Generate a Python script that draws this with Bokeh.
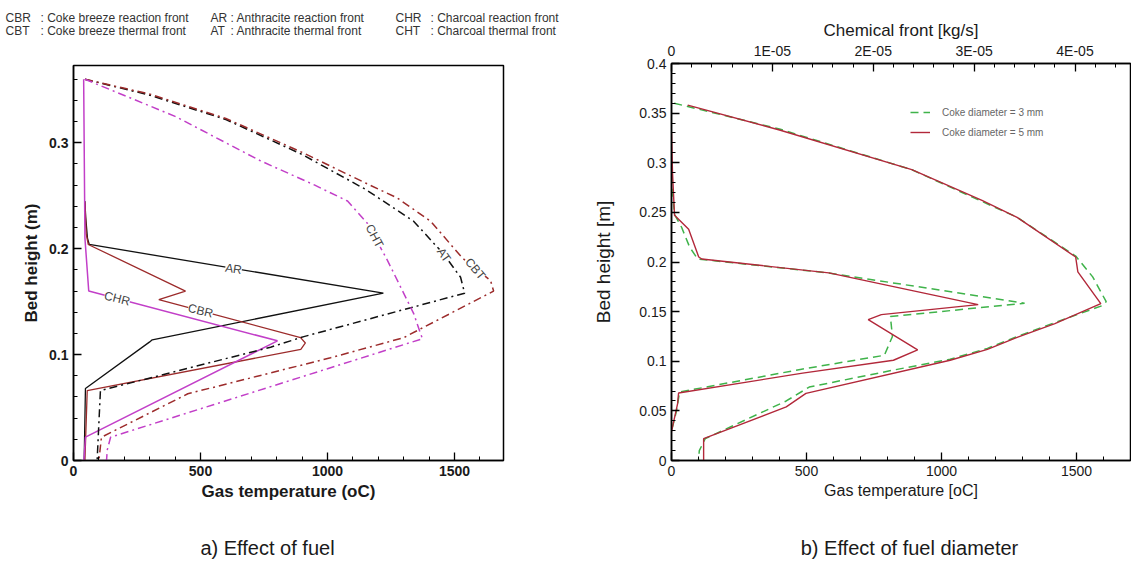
from bokeh.plotting import figure
from bokeh.models import (Range1d, LinearAxis, FixedTicker, CustomJSTickFormatter,
                          Label, Legend, LegendItem)
from bokeh.layouts import row, column
from bokeh.embed import file_html
from bokeh.resources import INLINE

# ---------------- Panel a) Effect of fuel : (gas temperature oC, bed height m)
ar_T = [45, 48, 55, 62, 1220, 310, 300, 47, 42]
ar_h = [0.245, 0.23, 0.21, 0.204, 0.158, 0.114, 0.112, 0.068, 0.0]
cbr_T = [45, 50, 58, 441, 336, 894, 913, 895, 54, 45]
cbr_h = [0.244, 0.214, 0.204, 0.160, 0.152, 0.116, 0.111, 0.105, 0.066, 0.0]
chr_T = [40, 45, 60, 803, 47, 41]
chr_h = [0.36, 0.21, 0.160, 0.113, 0.022, 0.0]
at_T = [45, 300, 600, 900, 1150, 1339, 1457, 1524, 1540, 907, 776, 106, 93]
at_h = [0.36, 0.345, 0.322, 0.289, 0.256, 0.226, 0.195, 0.173, 0.158, 0.117, 0.107, 0.066, 0.0]
cbt_T = [45, 300, 600, 900, 1150, 1274, 1406, 1532, 1642, 1654, 1630, 1300, 1012, 450, 110, 100]
cbt_h = [0.36, 0.346, 0.323, 0.291, 0.262, 0.248, 0.226, 0.191, 0.170, 0.160, 0.157, 0.116, 0.097, 0.063, 0.022, 0.0]
cht_T = [45, 400, 736, 950, 1079, 1157, 1236, 1339, 1366, 1374, 146, 133, 130]
cht_h = [0.36, 0.325, 0.283, 0.26, 0.245, 0.224, 0.189, 0.139, 0.120, 0.115, 0.022, 0.010, 0.0]

curve_labels = ["AR", "CBR", "CHR", "CHT", "AT", "CBT"]
curve_label_T = [630, 500, 172, 1185, 1458, 1582]
curve_label_h = [0.181, 0.1414, 0.153, 0.212, 0.194, 0.181]
curve_label_angle = [-9, -14, -14, -62, -55, -50]

legend_abbr = ["CBR", "CBT", "AR", "AT", "CHR", "CHT"]
legend_desc = [": Coke breeze reaction front", ": Coke breeze thermal front",
               ": Anthracite reaction front", ": Anthracite thermal front",
               ": Charcoal reaction front", ": Charcoal thermal front"]

# ---------------- Panel b) Effect of fuel diameter
th5_T = [60, 400, 890, 1150, 1280, 1497, 1505, 1590, 1420, 1280, 1170, 1032, 498, 425, 119, 119]
th5_h = [0.358, 0.333, 0.293, 0.262, 0.245, 0.205, 0.190, 0.158, 0.138, 0.124, 0.112, 0.101, 0.0676, 0.054, 0.022, 0.0]
th3_T = [10, 400, 890, 1280, 1497, 1560, 1610, 1595, 1420, 1280, 1170, 1032, 820, 510, 425, 125, 103, 100]
th3_h = [0.36, 0.334, 0.293, 0.245, 0.206, 0.185, 0.160, 0.156, 0.139, 0.125, 0.113, 0.102, 0.091, 0.074, 0.060, 0.022, 0.010, 0.0]
ch5 = [0.0, 0.01e-5, 0.03e-5, 0.17e-5, 0.27e-5, 0.30e-5, 1.56e-5, 3.04e-5, 2.08e-5, 1.95e-5,
       2.44e-5, 2.20e-5, 1.30e-5, 0.07e-5, 0.06e-5, 0.0]
ch5_h = [0.33, 0.29, 0.247, 0.233, 0.205, 0.203, 0.189, 0.157, 0.147, 0.142, 0.1115, 0.101, 0.088, 0.068, 0.057, 0.029]
ch3 = [0.0, 0.01e-5, 0.03e-5, 0.10e-5, 0.18e-5, 0.26e-5, 1.555e-5, 3.50e-5, 2.17e-5, 2.18e-5,
       2.19e-5, 2.11e-5, 1.29e-5, 0.08e-5, 0.05e-5, 0.0]
ch3_h = [0.30, 0.27, 0.248, 0.235, 0.215, 0.203, 0.189, 0.1585, 0.145, 0.135, 0.125, 0.106, 0.092, 0.069, 0.05, 0.03]

series_b_labels = ["Coke diameter = 3 mm", "Coke diameter = 5 mm"]
captions = ["a) Effect of fuel", "b) Effect of fuel diameter"]

FONT = "Liberation Sans"
TXT = "#1a1a1a"
C_COKE = "#9c2b2b"
C_ANTH = "#111111"
C_CHAR = "#c23fc8"
C_5MM = "#b2283a"
C_3MM = "#3fb34a"
DASHDOT = "8 4 2 4"


def style_axis(ax, size, bold, label_size):
    ax.major_label_text_font = FONT
    ax.major_label_text_font_size = size
    ax.major_label_text_font_style = "bold" if bold else "normal"
    ax.major_label_text_color = TXT
    ax.axis_label_text_font = FONT
    ax.axis_label_text_font_size = label_size
    ax.axis_label_text_font_style = "bold" if bold else "normal"
    ax.axis_label_text_color = TXT
    ax.axis_line_color = "black"
    ax.axis_line_width = 1.5
    ax.major_tick_line_color = "black"
    ax.minor_tick_line_color = "black"
    ax.major_tick_line_width = 1.3
    ax.major_tick_in = 8
    ax.major_tick_out = 0
    ax.minor_tick_in = 4
    ax.minor_tick_out = 0
    ax.major_label_standoff = 5


def blank(w, h, xr, yr):
    b = figure(width=w, height=h, x_range=Range1d(*xr), y_range=Range1d(*yr),
               x_axis_type=None, y_axis_type=None, output_backend="svg",
               toolbar_location=None, min_border=0,
               min_border_left=0, min_border_right=0, min_border_top=0, min_border_bottom=0)
    b.frame_align = False
    b.outline_line_color = None
    b.grid.visible = False
    b.background_fill_color = "white"
    b.border_fill_color = "white"
    return b


# ======================= HEADER (page pixel coords, y downward) =======================
hdr = blank(570, 45, (0, 570), (45, 0))
abbr_x = [5, 5, 210, 210, 395, 395]
desc_x = [40, 40, 230, 230, 430, 430]
row_y = [17, 30, 17, 30, 17, 30]
for a, d, ax_, dx_, ry in zip(legend_abbr, legend_desc, abbr_x, desc_x, row_y):
    hdr.add_layout(Label(x=ax_, y=ry, text=a, text_font=FONT, text_font_size="12px",
                         text_color="#333333", text_baseline="middle", text_align="left"))
    hdr.add_layout(Label(x=dx_, y=ry, text=d, text_font=FONT, text_font_size="12px",
                         text_color="#333333", text_baseline="middle", text_align="left"))

# ======================= LEFT PANEL =======================
p1 = figure(width=570, height=468, x_range=Range1d(0, 1693), y_range=Range1d(0, 0.373),
            output_backend="svg", toolbar_location=None,
            min_border_left=73, min_border_right=67, min_border_top=20, min_border_bottom=53)
p1.frame_align = False
p1.grid.visible = False
p1.outline_line_color = "black"
p1.outline_line_width = 1.5
p1.background_fill_color = "white"
p1.border_fill_color = "white"

p1.xaxis.ticker = FixedTicker(ticks=[0, 500, 1000, 1500], minor_ticks=list(range(0, 1700, 100)))
p1.yaxis.ticker = FixedTicker(ticks=[0, 0.1, 0.2, 0.3], minor_ticks=[0.02 * i for i in range(19)])
p1.yaxis.formatter = CustomJSTickFormatter(code="return tick == 0 ? '0' : tick.toFixed(1);")
p1.xaxis.axis_label = "Gas temperature (oC)"
p1.yaxis.axis_label = "Bed height (m)"
style_axis(p1.xaxis[0], "14px", True, "17px")
style_axis(p1.yaxis[0], "14px", True, "17px")
p1.xaxis[0].axis_label_standoff = 3

p1.line(ar_T, ar_h, line_color=C_ANTH, line_width=1.3)
p1.line(cbr_T, cbr_h, line_color=C_COKE, line_width=1.3)
p1.line(chr_T, chr_h, line_color=C_CHAR, line_width=1.5)
p1.line(at_T, at_h, line_color=C_ANTH, line_width=1.5, line_dash=DASHDOT)
p1.line(cbt_T, cbt_h, line_color=C_COKE, line_width=1.5, line_dash=DASHDOT)
p1.line(cht_T, cht_h, line_color=C_CHAR, line_width=1.5, line_dash=DASHDOT)

for t, x, y, a in zip(curve_labels, curve_label_T, curve_label_h, curve_label_angle):
    p1.add_layout(Label(x=x, y=y, text=t, angle=a, angle_units="deg",
                        text_align="center", text_baseline="middle",
                        text_font=FONT, text_font_size="12px", text_color="#444444",
                        background_fill_color="white"))

capL = blank(570, 50, (0, 570), (563, 513))
capL.add_layout(Label(x=267, y=547, text=captions[0], text_font=FONT, text_font_size="20px",
                      text_color=TXT, text_baseline="middle", text_align="center"))

# ======================= RIGHT PANEL =======================
p2 = figure(width=561, height=513, x_range=Range1d(0, 1700), y_range=Range1d(0, 0.4),
            output_backend="svg", toolbar_location=None,
            min_border_left=101, min_border_right=1, min_border_top=63, min_border_bottom=53)
p2.frame_align = False
p2.grid.visible = False
p2.outline_line_color = "black"
p2.outline_line_width = 1.5
p2.background_fill_color = "white"
p2.border_fill_color = "white"

p2.extra_x_ranges = {"chem": Range1d(0, 4.55e-5)}
p2.xaxis.ticker = FixedTicker(ticks=[0, 500, 1000, 1500], minor_ticks=list(range(0, 1700, 100)))
p2.yaxis.ticker = FixedTicker(ticks=[0.05 * i for i in range(9)], minor_ticks=[0.01 * i for i in range(41)])
p2.yaxis.formatter = CustomJSTickFormatter(code="return String(parseFloat(tick.toFixed(2)));")
p2.xaxis.axis_label = "Gas temperature [oC]"
p2.yaxis.axis_label = "Bed height [m]"
style_axis(p2.xaxis[0], "14px", False, "16px")
style_axis(p2.yaxis[0], "14px", False, "19px")
p2.yaxis[0].axis_label_standoff = 22
p2.xaxis[0].axis_label_standoff = 3

top = LinearAxis(x_range_name="chem", axis_label="Chemical front [kg/s]",
                 ticker=FixedTicker(ticks=[0, 1e-5, 2e-5, 3e-5, 4e-5],
                                    minor_ticks=[2e-6 * i for i in range(23)]),
                 formatter=CustomJSTickFormatter(
                     code="return tick == 0 ? '0' : Math.round(tick/1e-5) + 'E-05';"))
style_axis(top, "14px", False, "17px")
top.axis_label_standoff = 0
p2.add_layout(top, "above")

r3t = p2.line(th3_T, th3_h, line_color=C_3MM, line_width=1.5, line_dash="8 5")
r5t = p2.line(th5_T, th5_h, line_color=C_5MM, line_width=1.4)
p2.line(ch3, ch3_h, x_range_name="chem", line_color=C_3MM, line_width=1.5, line_dash="8 5")
p2.line(ch5, ch5_h, x_range_name="chem", line_color=C_5MM, line_width=1.4)

leg = Legend(items=[LegendItem(label=series_b_labels[0], renderers=[r3t]),
                    LegendItem(label=series_b_labels[1], renderers=[r5t])],
             location=(239, 321), padding=0, margin=0, spacing=6,
             glyph_width=20, glyph_height=14, label_standoff=12,
             label_text_font=FONT, label_text_font_size="10px", label_text_color="#666666",
             border_line_alpha=0, background_fill_alpha=0)
p2.add_layout(leg)

capR = blank(561, 50, (570, 1131), (563, 513))
capR.add_layout(Label(x=909, y=547, text=captions[1], text_font=FONT, text_font_size="20px",
                      text_color=TXT, text_baseline="middle", text_align="center"))

layout = row(column(hdr, p1, capL), column(p2, capR))
open("out.html", "w").write(file_html(layout, INLINE))
